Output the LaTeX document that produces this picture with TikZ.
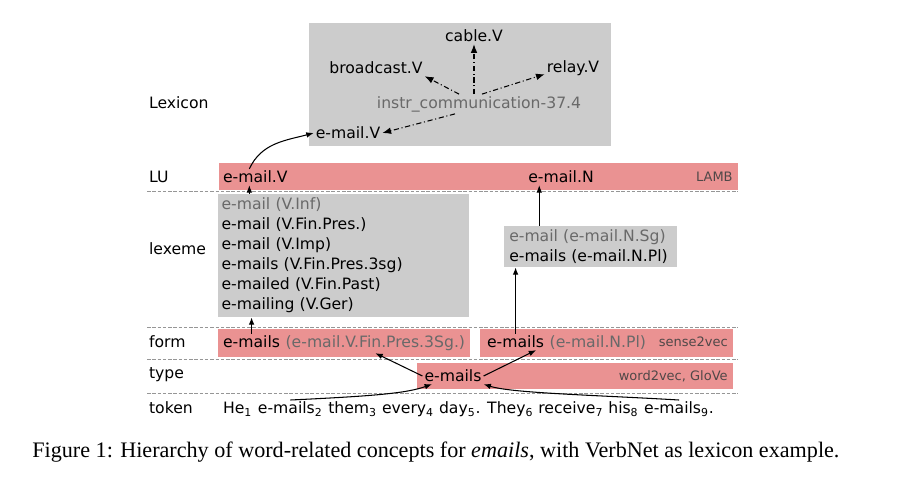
\documentclass[tikz,border=0pt]{standalone}
\usepackage{fontspec}
\setmainfont{DejaVu Sans}
\newfontfamily\captionserif{Liberation Serif}
\usepackage{tikz}
\usetikzlibrary{arrows,arrows.meta,shapes,positioning,calc}
\usepackage{xcolor}
\definecolor{hrpink}{RGB}{234,146,146}
\definecolor{hrgray}{RGB}{204,204,204}
\definecolor{hrtext}{RGB}{105,105,105}
\definecolor{hrtag}{RGB}{80,72,72}
\definecolor{hrline}{RGB}{150,150,150}
\tikzstyle{arrow} = [line width=0.6pt,->,>={Latex[length=4.2pt,width=3.2pt]}]
\tikzstyle{dasharrow} = [line width=0.6pt,->,>={Latex[length=5pt,width=3.8pt]}, dash pattern=on 3pt off 1.5pt on 0.6pt off 1.5pt]
\tikzstyle{word} = [inner sep=1pt, font=\fontsize{8.9}{11.34}\selectfont]
\tikzstyle{level} = [word, anchor=west]
\tikzstyle{tok} = [word, anchor=base west]
\tikzstyle{tag} = [inner sep=0pt, anchor=east, text=hrtag, font=\fontsize{7.4}{9}\selectfont]
\tikzstyle{bar} = [rectangle, fill=hrpink, inner sep=0pt]
\tikzstyle{graybox} = [rectangle, fill=hrgray, inner sep=0pt]
\tikzstyle{separator} = [hrline, line width=0.5pt, dash pattern=on 2pt off 1pt]

\begin{document}
\begin{tikzpicture}[x=0.02cm, y=0.02cm]
    \useasboundingbox (0,0) rectangle (901,489);

    % Levels
    \node[level] (lexicon) at (147,386) {Lexicon};
    \node[level] (lu) at (147,312) {LU};
    \node[level] (lexeme) at (147,240) {lexeme};
    \node[level] (form) at (147,147) {form};
    \node[level] (type) at (147,114) {type};
    \node[level] (token) at (147,81) {token};

    % Separators
    \foreach \y in {298,162,130,96}
        \draw[separator] (147,\y) -- (738,\y);

    % Lexicon
    \node[graybox, minimum width=6.04cm, minimum height=2.46cm] (lexbox) at (460,404.5) {};
    \node[word] (cable) at (474,453) {cable.V};
    \node[word] (broadcast) at (376,421) {broadcast.V};
    \node[word] (relay) at (573,421) {relay.V};
    \node[word, text=hrtext] (instr) at (479,385) {instr\_communication-37.4};
    \node[word] (lexmail) at (348,356) {e-mail.V};

    \draw[dasharrow] (instr.north -| cable.south) -- (cable.south);
    \draw[dasharrow] ($(instr.north)+(-20,0)$) -- (broadcast.south east);
    \draw[dasharrow] ($(instr.north)+(3,0)$) -- ([yshift=2pt]relay.south west);
    \draw[dasharrow] ($(instr.south)+(-24,0)$) -- (lexmail.east);

    % LU
    \node[bar, minimum width=10.38cm, minimum height=0.54cm] (lubar) at (478.5,312.5) {};
    \node[word, anchor=west] (luV) at (221,312) {e-mail.V};
    \node[word] (luN) at (561,312) {e-mail.N};
    \node[tag] (lamb) at (733,312) {LAMB};

    % Lexemes
    \node[word, graybox, inner xsep=2.3pt, text width=138.8pt, minimum height=2.46cm, align=left] (vlex) at (343.5,233.5)
        {{\color{hrtext}e-mail (V.Inf)}\\
         e-mail (V.Fin.Pres.)\\
         e-mail (V.Imp)\\
         e-mails (V.Fin.Pres.3sg)\\
         e-mailed (V.Fin.Past)\\
         e-mailing (V.Ger)};
    \node[word, graybox, inner xsep=2.8pt, text width=92.5pt, minimum height=0.82cm, align=left] (nlex) at (590.5,242.5)
        {{\color{hrtext}e-mail (e-mail.N.Sg)}\\
         e-mails (e-mail.N.Pl)};

    % Forms
    \node[bar, minimum width=5.04cm, minimum height=0.56cm] (formbarV) at (344,146) {};
    \node[bar, minimum width=5.06cm, minimum height=0.56cm] (formbarN) at (606.5,146) {};
    \node[word, anchor=west] (formV) at (221,147) {e-mails};
    \node[word, anchor=base west, text=hrtext] (formVinfo) at ([xshift=0.8pt]formV.base east) {(e-mail.V.Fin.Pres.3Sg.)};
    \node[word, anchor=west] (formN) at (485,147) {e-mails};
    \node[word, anchor=base west, text=hrtext] (formNinfo) at ([xshift=0.8pt]formN.base east) {(e-mail.N.Pl)};
    \node[tag] (s2v) at (728,147) {sense2vec};

    % Types
    \node[bar, minimum width=6.32cm, minimum height=0.52cm] (typebar) at (575,113) {};
    \node[word] (typeW) at (453,113) {e-mails};
    \node[tag] (w2v) at (728,113) {word2vec, GloVe};

    % Tokens
    \node[tok] (tok1) at (221,75) {He\textsubscript{1}};
    \node[tok] (tok2) at ([xshift=0.8pt]tok1.base east) {e-mails\textsubscript{2}};
    \node[tok] (tok3) at ([xshift=0.8pt]tok2.base east) {them\textsubscript{3} every\textsubscript{4} day\textsubscript{5}. They\textsubscript{6} receive\textsubscript{7} his\textsubscript{8}};
    \node[tok] (tok9) at ([xshift=0.8pt]tok3.base east) {e-mails\textsubscript{9}.};

    % Arrows
    \coordinate (luVfoot) at ($(luV.south)+(-6,0)$);
    \coordinate (nlexfoot) at ($(nlex.north west)+(35.3,0)$);
    \draw[arrow] ($(luV.north)+(-6,0)$) to[out=65, in=195] (lexmail.west);
    \draw[arrow] (luVfoot |- vlex.north) -- (luVfoot);
    \draw[arrow] (formV.north) -- (formV.north |- vlex.south);
    \draw[arrow] (nlexfoot) -- (nlexfoot |- luN.south);
    \draw[arrow] (formN.north) -- (formN.north |- nlex.south);
    \draw[arrow] (typeW.west) -- (formVinfo.south);
    \draw[arrow] (typeW.east) -- ($(formN.south east)+(-10,0)$);
    \draw[arrow] (tok2.north) .. controls +(85,4) and +(-25,-9) .. ($(typeW.south)+(-21,0)$);
    \draw[arrow] (tok9.north) .. controls +(-85,5) and +(28,-9) .. (typeW.south east);

    % Caption
    \node[anchor=base west, inner sep=0pt, font=\captionserif\fontsize{12.6}{14}\selectfont] (caption) at (32,31)
        {Figure 1: Hierarchy of word-related concepts for \emph{emails}, with VerbNet as lexicon example.};
\end{tikzpicture}
\end{document}
